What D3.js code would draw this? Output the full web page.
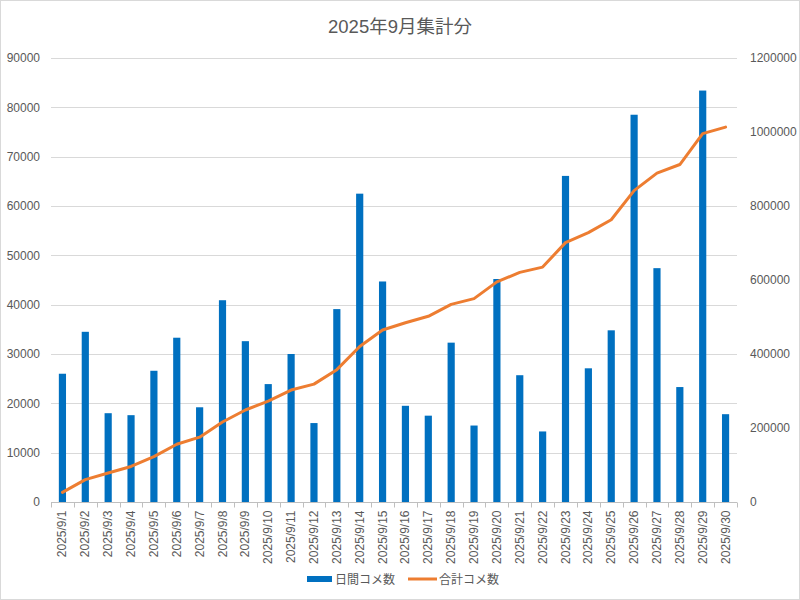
<!DOCTYPE html>
<html>
<head>
<meta charset="utf-8">
<script src="https://cdn.jsdelivr.net/npm/d3@7"></script>
<style>
  body { margin: 0; background: #fff; }
  svg text { font-family: "Liberation Sans", "Noto Sans CJK JP", sans-serif; fill: #595959; }
</style>
</head>
<body>
<script>
const days = ['2025/9/1', '2025/9/2', '2025/9/3', '2025/9/4', '2025/9/5', '2025/9/6', '2025/9/7', '2025/9/8', '2025/9/9', '2025/9/10',
  '2025/9/11', '2025/9/12', '2025/9/13', '2025/9/14', '2025/9/15', '2025/9/16', '2025/9/17', '2025/9/18', '2025/9/19', '2025/9/20',
  '2025/9/21', '2025/9/22', '2025/9/23', '2025/9/24', '2025/9/25', '2025/9/26', '2025/9/27', '2025/9/28', '2025/9/29', '2025/9/30'];

// 日間コメ数 (left axis)
const daily = [26000, 34500, 18000, 17600, 26600, 33300, 19200, 40900, 32600, 23900,
  30000, 16000, 39100, 62500, 44700, 19500, 17500, 32300, 15500, 45200,
  25700, 14300, 66100, 27100, 34800, 78500, 47400, 23300, 83400, 17800];

// 合計コメ数 (right axis)
const total = [26000, 60500, 78500, 96100, 122700, 156000, 175200, 216100, 248700, 272600,
  302600, 318600, 357700, 420200, 464900, 484400, 501900, 534200, 549700, 594900,
  620600, 634900, 701000, 728100, 762900, 841400, 888800, 912100, 995500, 1013300];

const leftTicks = [0, 10000, 20000, 30000, 40000, 50000, 60000, 70000, 80000, 90000];
const rightTicks = [0, 200000, 400000, 600000, 800000, 1000000, 1200000];

const width = 800;
const height = 600;
const margin = { top: 58, right: 63, bottom: 98, left: 51 };

const svg = d3.select('body')
  .append('svg')
  .attr('width', width)
  .attr('height', height);

svg.append('rect')
  .attr('x', 0.5).attr('y', 0.5)
  .attr('width', width - 1).attr('height', height - 1)
  .attr('fill', '#fff')
  .attr('stroke', '#d9d9d9');

const x = d3.scaleBand()
  .domain(days)
  .range([margin.left, width - margin.right])
  .paddingInner(0.686)
  .paddingOuter(0.343);

const yLeft = d3.scaleLinear()
  .domain([0, 90000])
  .range([height - margin.bottom, margin.top]);

const yRight = d3.scaleLinear()
  .domain([0, 1200000])
  .range([height - margin.bottom, margin.top]);

// gridlines
svg.append('g')
  .selectAll('line')
  .data(leftTicks.slice(1))
  .enter()
  .append('line')
  .attr('x1', margin.left)
  .attr('x2', width - margin.right)
  .attr('y1', d => Math.round(yLeft(d)) + 0.5)
  .attr('y2', d => Math.round(yLeft(d)) + 0.5)
  .attr('stroke', '#d9d9d9');

// left axis labels
svg.append('g')
  .attr('transform', `translate(${ margin.left - 8 },0)`)
  .call(d3.axisLeft(yLeft).tickValues(leftTicks).tickSize(0).tickFormat(d3.format('d')))
  .call(g => g.select('.domain').remove())
  .selectAll('text')
  .style('font-size', '12px')
  .style('fill', '#595959');

// right axis labels
svg.append('g')
  .attr('transform', `translate(${ width - margin.right + 10 },0)`)
  .call(d3.axisRight(yRight).tickValues(rightTicks).tickSize(0).tickFormat(d3.format('d')))
  .call(g => g.select('.domain').remove())
  .selectAll('text')
  .style('font-size', '12px')
  .style('fill', '#595959');

// bars
svg.append('g')
  .selectAll('rect')
  .data(daily)
  .enter()
  .append('rect')
  .attr('x', (d, i) => x(days[i]))
  .attr('width', x.bandwidth())
  .attr('y', d => yLeft(d))
  .attr('height', d => yLeft(0) - yLeft(d))
  .attr('fill', '#0070c0');

// bottom axis
const xAxisG = svg.append('g')
  .attr('transform', `translate(0,${ Math.round(yLeft(0)) + 0.5 })`);

xAxisG.append('line')
  .attr('x1', margin.left)
  .attr('x2', width - margin.right)
  .attr('stroke', '#bfbfbf');

const step = x.step();
const boundaries = d3.range(days.length + 1).map(i => x(days[0]) - x.step() * x.paddingInner() / 2 + i * step);

xAxisG.selectAll('.tick-mark')
  .data(boundaries)
  .enter()
  .append('line')
  .attr('class', 'tick-mark')
  .attr('x1', d => Math.round(d) + 0.5)
  .attr('x2', d => Math.round(d) + 0.5)
  .attr('y1', 0)
  .attr('y2', 5)
  .attr('stroke', '#bfbfbf');

xAxisG.selectAll('.xlabel')
  .data(days)
  .enter()
  .append('text')
  .attr('class', 'xlabel')
  .attr('transform', d => `translate(${ x(d) + x.bandwidth() / 2 + 4 },8) rotate(-90)`)
  .attr('text-anchor', 'end')
  .style('font-size', '12px')
  .text(d => d);

// cumulative line
const line = d3.line()
  .x((d, i) => x(days[i]) + x.bandwidth() / 2)
  .y(d => yRight(d));

svg.append('path')
  .datum(total)
  .attr('d', line)
  .attr('fill', 'none')
  .attr('stroke', '#ed7d31')
  .attr('stroke-width', 3)
  .attr('stroke-linejoin', 'round')
  .attr('stroke-linecap', 'round');

// title
svg.append('text')
  .attr('x', width / 2)
  .attr('y', 33)
  .attr('text-anchor', 'middle')
  .style('font-size', '18.5px')
  .text('2025年9月集計分');

// legend
const legend = svg.append('g').attr('transform', 'translate(0,579)');

legend.append('rect')
  .attr('x', 307).attr('y', -3)
  .attr('width', 25).attr('height', 6)
  .attr('fill', '#0070c0');

legend.append('text')
  .attr('x', 335).attr('y', 4.5)
  .style('font-size', '12px')
  .text('日間コメ数');

legend.append('line')
  .attr('x1', 408).attr('x2', 437)
  .attr('y1', 0).attr('y2', 0)
  .attr('stroke', '#ed7d31')
  .attr('stroke-width', 3);

legend.append('text')
  .attr('x', 439).attr('y', 4.5)
  .style('font-size', '12px')
  .text('合計コメ数');
</script>
</body>
</html>
